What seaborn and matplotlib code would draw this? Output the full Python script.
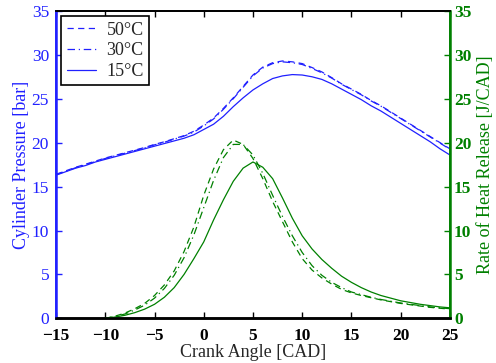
import numpy as np
import pandas as pd
import matplotlib
matplotlib.use("Agg")
import matplotlib.pyplot as plt
import seaborn as sns

# Crank angle grids [CAD]
cad_p = list(range(-15, 26))
cad_h = list(range(-10, 26))

# Cylinder pressure [bar]
p_50 = [16.4, 16.8, 17.2, 17.55, 17.9, 18.25, 18.55, 18.85, 19.15, 19.45, 19.8,
        20.1, 20.45, 20.8, 21.3, 22.0, 22.8, 23.9, 25.1, 26.4, 27.7, 28.6, 29.1,
        29.3, 29.2, 29.0, 28.55, 28.05, 27.4, 26.7, 26.1, 25.5, 24.8, 24.2, 23.5,
        22.8, 22.1, 21.4, 20.7, 20.0, 19.3]
p_30 = [16.35, 16.75, 17.15, 17.5, 17.85, 18.2, 18.5, 18.8, 19.1, 19.4, 19.75,
        20.05, 20.4, 20.75, 21.2, 21.9, 22.7, 23.8, 25.0, 26.3, 27.6, 28.5, 29.0,
        29.2, 29.1, 28.9, 28.45, 27.95, 27.35, 26.65, 26.05, 25.45, 24.75, 24.15, 23.45,
        22.75, 22.05, 21.35, 20.65, 19.95, 19.25]
p_15 = [16.3, 16.7, 17.1, 17.4, 17.8, 18.1, 18.4, 18.7, 19.0, 19.3, 19.6,
        19.9, 20.2, 20.5, 20.9, 21.5, 22.1, 23.0, 24.1, 25.1, 26.0, 26.7, 27.3,
        27.6, 27.75, 27.7, 27.5, 27.2, 26.7, 26.1, 25.5, 24.9, 24.2, 23.6, 22.9,
        22.2, 21.5, 20.8, 20.1, 19.3, 18.6]

# Rate of heat release [J/CAD]
h_50 = [0.0, 0.25, 0.6, 1.1, 1.7, 2.6, 3.8, 5.4, 7.6, 10.4, 14.0, 17.0, 19.2,
        20.3, 19.8, 18.2, 15.9, 13.3, 11.0, 8.7, 6.8, 5.5, 4.6, 3.9, 3.3, 2.9,
        2.6, 2.35, 2.1, 1.9, 1.7, 1.55, 1.4, 1.25, 1.15, 1.05]
h_30 = [0.0, 0.2, 0.5, 0.95, 1.5, 2.3, 3.4, 4.9, 6.9, 9.5, 12.6, 15.7, 18.3,
        19.8, 19.8, 18.6, 16.5, 14.0, 11.6, 9.4, 7.5, 6.0, 4.9, 4.1, 3.5, 3.0,
        2.7, 2.4, 2.15, 1.95, 1.75, 1.6, 1.45, 1.3, 1.2, 1.1]
h_15 = [0.0, 0.15, 0.35, 0.65, 1.05, 1.6, 2.4, 3.5, 5.0, 6.8, 8.7, 11.2, 13.5,
        15.6, 17.1, 17.8, 17.2, 15.9, 13.7, 11.4, 9.4, 7.9, 6.7, 5.7, 4.8, 4.1,
        3.5, 3.0, 2.6, 2.3, 2.0, 1.8, 1.6, 1.45, 1.3, 1.2]

labels = ["50\u00b0C", "30\u00b0C", "15\u00b0C"]
dash_patterns = [(5, 3.5), (6, 3, 1, 3), None]

sns.set_style("ticks")
plt.rcParams["font.family"] = ["Liberation Serif", "DejaVu Serif"]

blue = "#2020ff"
green = "#008000"

fig = plt.figure(figsize=(4.96, 3.63), dpi=100)
ax = fig.add_axes([0.113, 0.123, 0.794, 0.847])
ax2 = ax.twinx()


def style_line(line, pattern):
    if pattern is None:
        line.set_linestyle("-")
    else:
        line.set_dashes(pattern)


for lab, pat, yv in zip(labels, dash_patterns, [p_50, p_30, p_15]):
    sns.lineplot(x=cad_p, y=yv, ax=ax, color=blue, lw=0.9, label=lab)
    style_line(ax.lines[-1], pat)
for pat, yv in zip(dash_patterns, [h_50, h_30, h_15]):
    sns.lineplot(x=cad_h, y=yv, ax=ax2, color=green, lw=0.9, legend=False)
    style_line(ax2.lines[-1], pat)

ax.set_xlim(-15, 25)
ax.set_ylim(0, 35)
ax2.set_ylim(0, 35)
ax.set_xticks(range(-15, 26, 5))
ax.set_xticklabels(["\u221215", "\u221210", "\u22125", "0", "5", "10", "15", "20", "25"],
                   fontweight="bold")
ax.set_yticks(range(0, 36, 5))
ax2.set_yticks(range(0, 36, 5))

ax.set_xlabel("Crank Angle [CAD]", fontsize=13, labelpad=0)
ax.set_ylabel("Cylinder Pressure [bar]", fontsize=13, color=blue, labelpad=1)
ax2.set_ylabel("Rate of Heat Release [J/CAD]", fontsize=13, color=green, labelpad=4)

ax.tick_params(axis="x", direction="in", length=4, width=1, labelsize=12.5,
               top=True, colors="black", pad=7)
ax.tick_params(axis="y", direction="in", length=4, width=1, labelsize=12.5,
               colors=blue, pad=5)
ax2.tick_params(axis="y", direction="in", length=4, width=1, labelsize=12.5,
                colors=green, pad=3)
for t in ax2.get_yticklabels():
    t.set_fontweight("bold")

for a in (ax, ax2):
    for s in a.spines.values():
        s.set_visible(True)
        s.set_linewidth(1.3)
        s.set_color("black")
ax.spines["left"].set_color(blue)
ax2.spines["left"].set_color(blue)
ax.spines["right"].set_color(green)
ax2.spines["right"].set_color(green)
ax.spines["left"].set_linewidth(1.8)
ax2.spines["right"].set_linewidth(1.8)
ax.spines["bottom"].set_linewidth(1.8)
ax2.spines["bottom"].set_linewidth(1.8)

leg = ax.legend(loc="upper left", fontsize=13, frameon=True, fancybox=False,
                edgecolor="black", framealpha=1, borderpad=0.3, labelspacing=0.2,
                handlelength=1.6, handletextpad=0.6, borderaxespad=0.3)
leg.get_frame().set_linewidth(1.2)

fig.savefig("out.png", dpi=100)
